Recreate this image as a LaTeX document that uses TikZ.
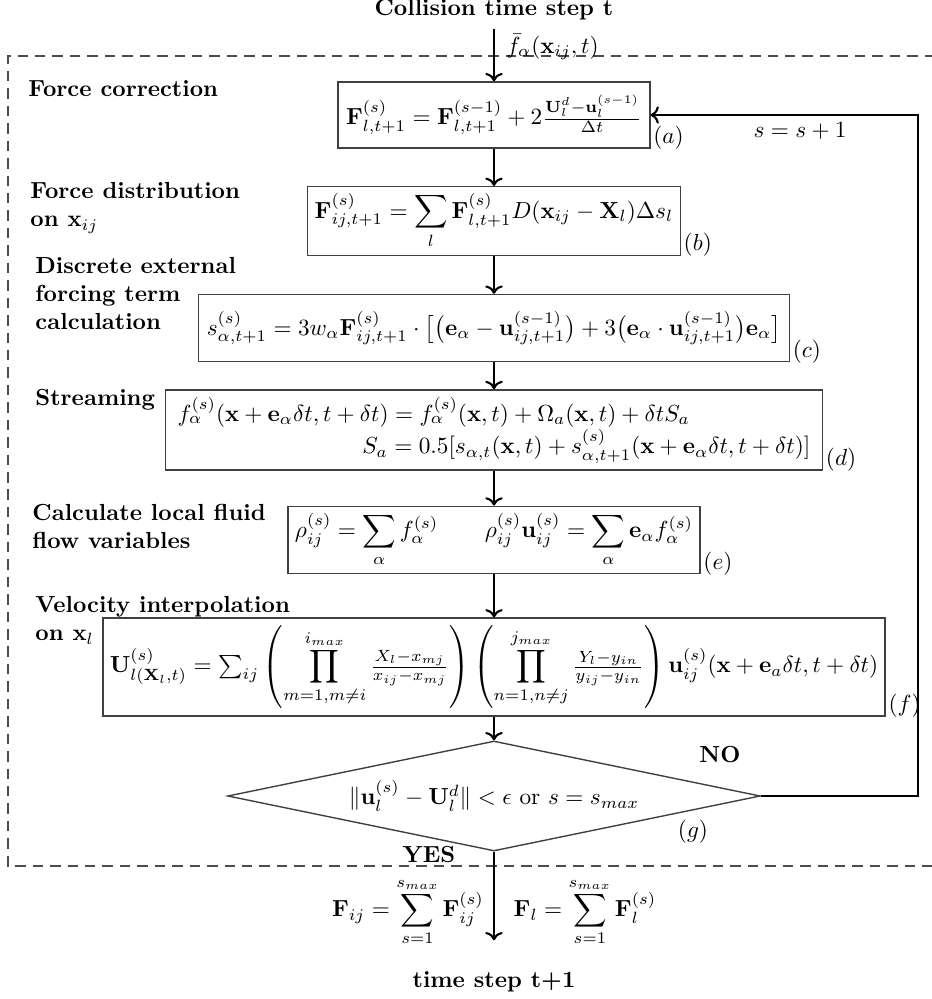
\documentclass[tikz,border=0pt]{standalone}
\usepackage{amsmath,amssymb}
\usepackage{tikz}
\usetikzlibrary{shapes.geometric, arrows.meta, positioning, calc}

\begin{document}
\begin{tikzpicture}[x=0.43pt, y=-0.43pt,
    eqbox/.style={draw=black!75, line width=0.6pt, inner sep=3pt},
    flow/.style={->, line width=0.9pt},
    stage/.style={anchor=north west, align=left, font=\bfseries, inner sep=0pt},
    tag/.style={anchor=south west, inner sep=1pt, yshift=-1.5pt}]
    \useasboundingbox (0,0) rectangle (931,999);
    \draw[dashed, dash pattern=on 4.5pt off 3pt, black!70, line width=0.5pt] (935,56) -- (8,56) -- (8,866) -- (935,866);

    \node[font=\bfseries] (start) at (494,10) {Collision time step t};
    \node[font=\bfseries] (stop) at (494,982) {time step t+1};

    \node[stage] (lbla) at (28,80) {Force correction};
    \node[stage] (lblb) at (30,182) {Force distribution\\on $\mathbf{x}_{ij}$};
    \node[stage] (lblc) at (35,257) {Discrete external\\forcing term\\calculation};
    \node[stage] (lbld) at (35,389) {Streaming};
    \node[stage] (lble) at (32,504) {Calculate local fluid\\flow variables};
    \node[stage] (lblf) at (35,596) {Velocity interpolation\\on $\mathbf{x}_{l}$};

    \node[eqbox, minimum width=134pt, minimum height=28.4pt] (a) at (494,115)
        {$\mathbf{F}^{(s)}_{l,t+1} = \mathbf{F}^{(s-1)}_{l,t+1} + 2\frac{\mathbf{U}^{d}_{l}-\mathbf{u}^{(s-1)}_{l}}{\Delta t}$};
    \node[eqbox, minimum width=158pt, minimum height=28.4pt] (b) at (494,221)
        {$\displaystyle \mathbf{F}^{(s)}_{ij,t+1} = \sum_{l}\mathbf{F}^{(s)}_{l,t+1} D(\mathbf{x}_{ij}-\mathbf{X}_{l})\Delta s_{l}$};
    \node[eqbox, minimum width=254pt, minimum height=28.8pt] (c) at (494,328)
        {$s^{(s)}_{\alpha,t+1} = 3w_{\alpha}\mathbf{F}^{(s)}_{ij,t+1}\cdot\big[\big(\mathbf{e}_{\alpha}-\mathbf{u}^{(s-1)}_{ij,t+1}\big)+3\big(\mathbf{e}_{\alpha}\cdot\mathbf{u}^{(s-1)}_{ij,t+1}\big)\mathbf{e}_{\alpha}\big]$};
    \node[eqbox, minimum width=282.5pt, minimum height=34.4pt] (d) at (494,430)
        {\begin{tabular}{@{}p{272pt}@{}}
        $f^{(s)}_{\alpha}(\mathbf{x}+\mathbf{e}_{\alpha}\delta t,t+\delta t) = f^{(s)}_{\alpha}(\mathbf{x},t)+\Omega_{a}(\mathbf{x},t)+\delta t S_{a}$\\
        \hspace*{\fill}$S_{a} = 0.5[s_{\alpha,t}(\mathbf{x},t)+s^{(s)}_{\alpha,t+1}(\mathbf{x}+\mathbf{e}_{\alpha}\delta t,t+\delta t)]$
        \end{tabular}};
    \node[eqbox, minimum width=171pt, minimum height=28.8pt] (e) at (494,540)
        {$\displaystyle \rho^{(s)}_{ij} = \sum_{\alpha} f^{(s)}_{\alpha} \qquad \rho^{(s)}_{ij}\mathbf{u}^{(s)}_{ij} = \sum_{\alpha}\mathbf{e}_{\alpha} f^{(s)}_{\alpha}$};
    \node[eqbox, minimum width=336pt, minimum height=37.4pt] (f) at (494,667)
        {$\mathbf{U}^{(s)}_{l(\mathbf{X}_{l},t)} = \sum_{ij}\displaystyle\left(\prod_{m=1,m\neq i}^{i_{max}}\tfrac{X_{l}-x_{mj}}{x_{ij}-x_{mj}}\right)\left(\prod_{n=1,n\neq j}^{j_{max}}\tfrac{Y_{l}-y_{in}}{y_{ij}-y_{in}}\right)\mathbf{u}^{(s)}_{ij}(\mathbf{x}+\mathbf{e}_{a}\delta t,t+\delta t)$};
    \node[eqbox, diamond, aspect=4.8, inner sep=0pt, minimum width=229pt, minimum height=47.3pt] (test) at (494,796)
        {$\|\mathbf{u}^{(s)}_{l}-\mathbf{U}^{d}_{l}\| < \epsilon$ or $s = s_{max}$};

    \node[tag] (taga) at (a.south east) {$(a)$};
    \node[tag] (tagb) at (b.south east) {$(b)$};
    \node[tag] (tagc) at (c.south east) {$(c)$};
    \node[tag] (tagd) at (d.south east) {$(d)$};
    \node[tag] (tage) at (e.south east) {$(e)$};
    \node[tag] (tagf) at (f.south east) {$(f)$};
    \node (tagg) at (693,832) {$(g)$};

    \node[font=\bfseries] (no) at (720,755) {NO};
    \node[font=\bfseries] (yes) at (429,855) {YES};
    \node (incr) at (800,131) {$s=s+1$};
    \node (fij) at (408,912) {$\displaystyle \mathbf{F}_{ij} = \sum_{s=1}^{s_{max}}\mathbf{F}^{(s)}_{ij}$};
    \node (fl) at (585,912) {$\displaystyle \mathbf{F}_{l} = \sum_{s=1}^{s_{max}}\mathbf{F}^{(s)}_{l}$};
    \coordinate (back) at (918,115);

    \draw[flow] (start) -- node[right, pos=0.35, inner sep=2pt, xshift=3pt] {$\bar{f}_{\alpha}(\mathbf{x}_{ij},t)$} (a);
    \draw[flow] (a) -- (b);
    \draw[flow] (b) -- (c);
    \draw[flow] (c) -- (d);
    \draw[flow] (d) -- (e);
    \draw[flow] (e) -- (f);
    \draw[flow] (f) -- (test);
    \draw[flow] (test.east) -| (back) -- (a.east);
    \draw[flow, shorten >=10pt] (test) -- (stop);
\end{tikzpicture}
\end{document}
